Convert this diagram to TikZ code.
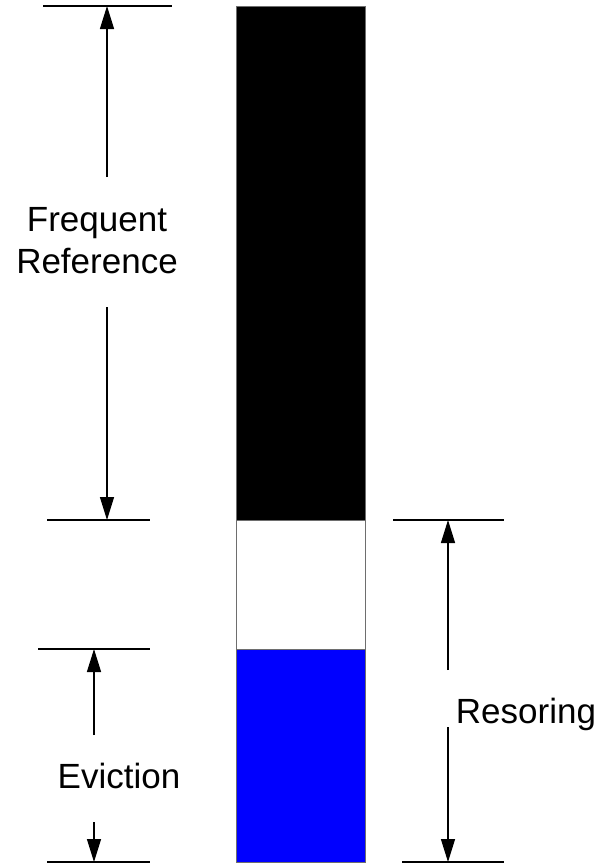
\documentclass[tikz,border=0pt]{standalone}
\usepackage{fontspec}
\setmainfont{Liberation Sans}
\usetikzlibrary{arrows.meta}
\definecolor{barblue}{RGB}{0,0,255}
\definecolor{edgegray}{RGB}{110,110,110}
\begin{document}
\begin{tikzpicture}[x=1pt,y=-1pt,
  tick/.style={line width=1.6pt},
  dim/.style={line width=1.3pt,-{Triangle[length=23pt,width=14pt]}},
  lbl/.style={font=\fontsize{35}{42}\selectfont,inner sep=0pt,anchor=base},
  seg/.style={draw=edgegray,line width=0.8pt}]
\useasboundingbox (0,0) rectangle (600,865);
% bar
\filldraw[seg,fill=black] (236,6) rectangle (365,520);
\filldraw[seg,fill=white] (236,520) rectangle (365,649);
\filldraw[seg,fill=barblue] (236,649) rectangle (365,862);
% extension lines
\draw[tick] (43,6) -- (172,6);
\draw[tick] (47,520) -- (150,520);
\draw[tick] (393,520) -- (504,520);
\draw[tick] (38,649) -- (150,649);
\draw[tick] (47,862) -- (150,862);
\draw[tick] (402,862) -- (504,862);
% end points
\coordinate (frtop) at (107,6);
\coordinate (frbot) at (107,520);
\coordinate (frs1) at (107,177);
\coordinate (frs2) at (107,307);
\coordinate (evtop) at (94,649);
\coordinate (evbot) at (94,862);
\coordinate (evs1) at (94,735);
\coordinate (evs2) at (94,822);
\coordinate (retop) at (448,520);
\coordinate (rebot) at (448,862);
\coordinate (res1) at (448,670);
\coordinate (res2) at (448,727);
% labels
\node[lbl] (fr1) at (97,231) {Frequent};
\node[lbl] (fr2) at (97,273) {Reference};
\node[lbl] (ev) at (119,788) {Eviction};
\node[lbl] (re) at (526,723) {Resoring};
% arrows
\draw[dim] (frs1) -- (frtop);
\draw[dim] (frs2) -- (frbot);
\draw[dim] (evs1) -- (evtop);
\draw[dim] (evs2) -- (evbot);
\draw[dim] (res1) -- (retop);
\draw[dim] (res2) -- (rebot);
\end{tikzpicture}
\end{document}
